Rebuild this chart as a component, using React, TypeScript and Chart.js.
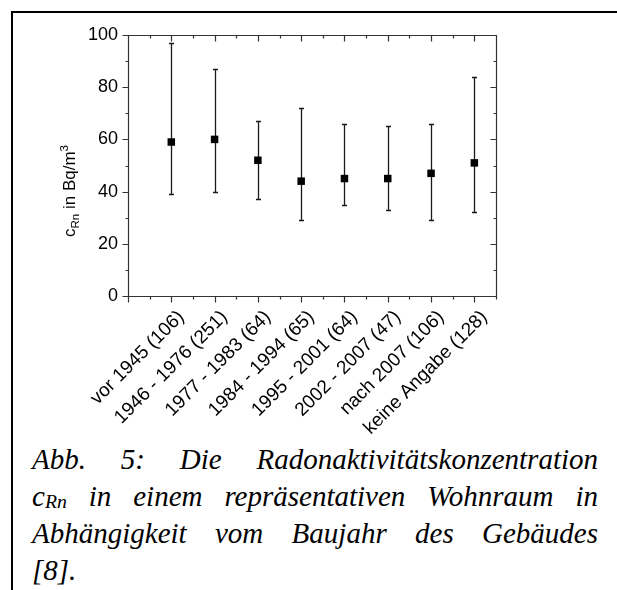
import React, { useEffect, useRef } from 'react';
import { Chart, registerables } from 'chart.js';

Chart.register(...registerables);

const categories = [
  'vor 1945 (106)',
  '1946 - 1976 (251)',
  '1977 - 1983 (64)',
  '1984 - 1994 (65)',
  '1995 - 2001 (64)',
  '2002 - 2007 (47)',
  'nach 2007 (106)',
  'keine Angabe (128)',
];
const medians = [59, 60, 52, 44, 45, 45, 47, 51];
const lowerValues = [39, 40, 37, 29, 35, 33, 29, 32];
const upperValues = [97, 87, 67, 72, 66, 65, 66, 84];
const yTickValues = [0, 20, 40, 60, 80, 100];
const yMinorValues = [10, 30, 50, 70, 90];
const xMin = 0;
const xMax = 8.5;

const SANS = '"Liberation Sans", Arial, sans-serif';
const CANVAS_W = 617;
const CANVAS_H = 440;

const decorPlugin = {
  id: 'decor',
  beforeDatasetsDraw(chart: any) {
    const { ctx, scales } = chart;
    const x = scales.x;
    const y = scales.y;
    ctx.save();
    ctx.strokeStyle = '#1a1a1a';
    ctx.lineWidth = 1.3;
    medians.forEach((_, i) => {
      const px = Math.round(x.getPixelForValue(i + 1)) + 0.5;
      const pl = Math.round(y.getPixelForValue(lowerValues[i])) + 0.5;
      const pu = Math.round(y.getPixelForValue(upperValues[i])) + 0.5;
      ctx.beginPath();
      ctx.moveTo(px, pl);
      ctx.lineTo(px, pu);
      ctx.moveTo(px - 2.5, pl);
      ctx.lineTo(px + 2.5, pl);
      ctx.moveTo(px - 2.5, pu);
      ctx.lineTo(px + 2.5, pu);
      ctx.stroke();
    });
    ctx.restore();
  },
  afterDraw(chart: any) {
    const { ctx, chartArea: a, scales } = chart;
    const x = scales.x;
    const y = scales.y;
    const L = Math.round(a.left) + 0.5;
    const R = Math.round(a.right) + 0.5;
    const T = Math.round(a.top) + 0.5;
    const B = Math.round(a.bottom) + 0.5;
    ctx.save();
    ctx.strokeStyle = '#333';
    ctx.lineWidth = 1.2;
    ctx.beginPath();
    ctx.rect(L, T, R - L, B - T);
    for (let v = xMin; v <= xMax + 1e-9; v += 0.5) {
      const px = Math.round(x.getPixelForValue(v)) + 0.5;
      const len = Number.isInteger(v) ? 6 : 3;
      ctx.moveTo(px, B);
      ctx.lineTo(px, B + len);
      ctx.moveTo(px, T);
      ctx.lineTo(px, T + len);
    }
    const yAll = [...yTickValues.map((v) => [v, 6]), ...yMinorValues.map((v) => [v, 3])];
    yAll.forEach(([v, len]) => {
      const py = Math.round(y.getPixelForValue(v)) + 0.5;
      ctx.moveTo(L, py);
      ctx.lineTo(L - len, py);
      ctx.moveTo(R, py);
      ctx.lineTo(R - len, py);
    });
    ctx.stroke();

    ctx.fillStyle = '#000';
    const big = '17px ' + SANS;
    const small = '11.5px ' + SANS;
    const parts: [string, string, number][] = [
      ['c', big, 0],
      ['Rn', small, 4],
      [' in Bq/m', big, 0],
      ['3', small, -7],
    ];
    let total = 0;
    parts.forEach(([t, f]) => {
      ctx.font = f;
      total += ctx.measureText(t).width;
    });
    ctx.translate(75, 191);
    ctx.rotate(-Math.PI / 2);
    ctx.textBaseline = 'alphabetic';
    ctx.textAlign = 'left';
    let cx = -total / 2;
    parts.forEach(([t, f, dy]) => {
      ctx.font = f;
      ctx.fillText(t, cx, dy);
      cx += ctx.measureText(t).width;
    });
    ctx.restore();
  },
};

function ChartBox() {
  const ref = useRef<HTMLCanvasElement | null>(null);
  useEffect(() => {
    if (!ref.current) return;
    const chart = new Chart(ref.current, {
      type: 'scatter',
      data: {
        datasets: [
          {
            data: medians.map((m, i) => ({ x: i + 1, y: m })),
            pointStyle: 'rect',
            pointRadius: 5.3,
            pointHoverRadius: 5.3,
            backgroundColor: '#000',
            borderColor: '#000',
            borderWidth: 0,
            showLine: false,
          },
        ],
      },
      options: {
        responsive: false,
        animation: false,
        events: [],
        layout: { padding: { left: 0, top: 35, right: 121, bottom: 0 } },
        plugins: { legend: { display: false }, tooltip: { enabled: false } },
        scales: {
          x: {
            type: 'linear',
            min: xMin,
            max: xMax,
            grid: { display: false, drawTicks: false },
            border: { display: false },
            afterBuildTicks: (s: any) => {
              s.ticks = categories.map((_, i) => ({ value: i + 1 }));
            },
            afterFit: (s: any) => {
              s.height = CANVAS_H - 296;
            },
            ticks: {
              autoSkip: false,
              maxRotation: 45,
              minRotation: 45,
              padding: 10,
              labelOffset: 10,
              color: '#000',
              font: { family: SANS, size: 19 },
              callback: (v: any) => categories[Math.round(v) - 1] ?? '',
            },
          },
          y: {
            type: 'linear',
            min: 0,
            max: 100,
            grid: { display: false, drawTicks: false },
            border: { display: false },
            afterBuildTicks: (s: any) => {
              s.ticks = yTickValues.map((v) => ({ value: v }));
            },
            afterFit: (s: any) => {
              s.width = 128;
            },
            ticks: {
              padding: 10,
              color: '#000',
              font: { family: SANS, size: 18 },
              callback: (v: any) => String(v),
            },
          },
        },
      },
      plugins: [decorPlugin],
    });
    return () => chart.destroy();
  }, []);
  return (
    <canvas
      ref={ref}
      width={CANVAS_W}
      height={CANVAS_H}
      style={{ position: 'absolute', left: 0, top: 0, width: CANVAS_W, height: CANVAS_H }}
    />
  );
}

const captionLine1 = 'Abb. 5: Die Radonaktivitätskonzentration';
const captionLine2Rest = ' in einem repräsentativen Wohnraum in';
const captionLine3 = 'Abhängigkeit vom Baujahr des Gebäudes';
const captionLine4 = '[8].';

export default function App() {
  const lineStyle: React.CSSProperties = {
    textAlign: 'justify',
    textAlignLast: 'justify' as any,
    whiteSpace: 'normal',
    height: 37,
  };
  return (
    <div style={{ position: 'fixed', left: 0, top: 0, width: 617, height: 590, background: '#fff', overflow: 'hidden' }}>
      <div
        style={{
          position: 'absolute',
          left: 11,
          top: 11,
          width: 700,
          height: 700,
          borderLeft: '2px solid #000',
          borderTop: '2px solid #000',
        }}
      />
      <ChartBox />
      <div
        style={{
          position: 'absolute',
          left: 32,
          top: 441,
          width: 566,
          fontFamily: '"Liberation Serif", "Times New Roman", serif',
          fontStyle: 'italic',
          fontSize: 29,
          lineHeight: '37px',
          color: '#000',
        }}
      >
        <div style={lineStyle}>{captionLine1}</div>
        <div style={lineStyle}>
          c<span style={{ fontSize: '0.68em', verticalAlign: '-0.08em' }}>Rn</span>
          {captionLine2Rest}
        </div>
        <div style={lineStyle}>{captionLine3}</div>
        <div>{captionLine4}</div>
      </div>
    </div>
  );
}
